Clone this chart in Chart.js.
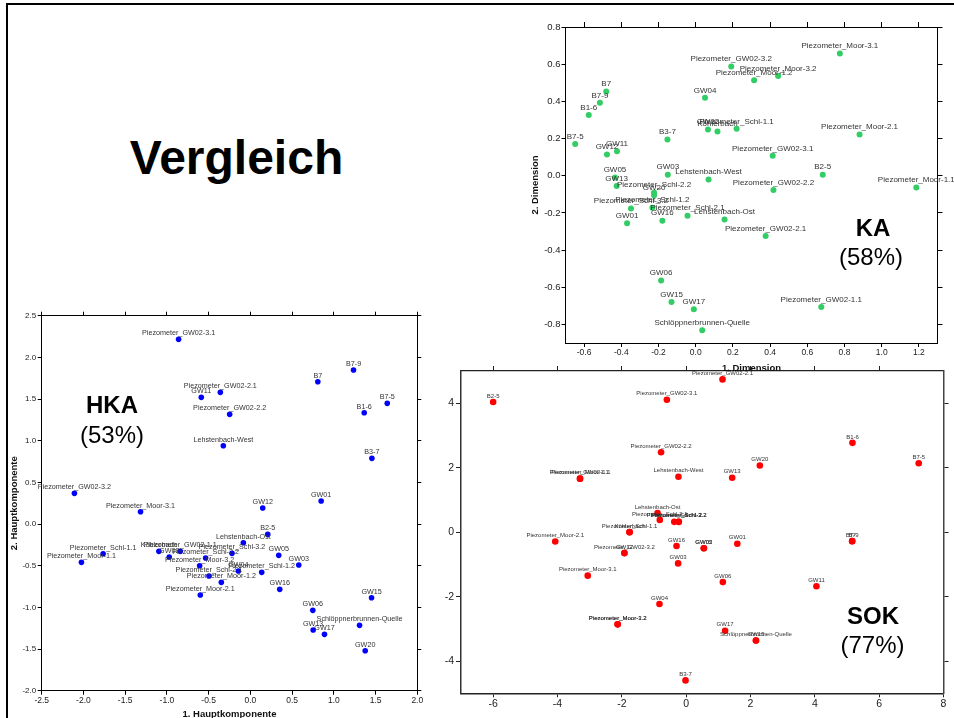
<!DOCTYPE html>
<html><head><meta charset="utf-8">
<script src="https://cdn.jsdelivr.net/npm/chart.js@4.4.0/dist/chart.umd.min.js"></script>
<style>
html,body{margin:0;padding:0;background:#fff;overflow:hidden;width:954px;height:718px;}
canvas{position:absolute;}
.t{position:absolute;font-family:"Liberation Sans",Arial,sans-serif;line-height:1;white-space:nowrap;transform:translateX(-50%);color:#000;}
</style></head><body>
<div style="position:absolute;left:6px;top:3px;width:2000px;height:2000px;border-left:2.5px solid #000;border-top:2px solid #000;"></div>
<canvas id="sok" width="524" height="358" style="left:430px;top:360px"></canvas>
<canvas id="hka" width="421" height="420" style="left:9px;top:300px"></canvas>
<canvas id="ka" width="424" height="364" style="left:530px;top:10px"></canvas>
<div class="t" style="left:236.5px;top:134.4px;font-size:48px;font-weight:bold">Vergleich</div>
<div class="t" style="left:873px;top:216.4px;font-size:24px;font-weight:bold">KA</div>
<div class="t" style="left:871px;top:244.7px;font-size:24px">(58%)</div>
<div class="t" style="left:112px;top:393px;font-size:24px;font-weight:bold">HKA</div>
<div class="t" style="left:112px;top:423px;font-size:24px">(53%)</div>
<div class="t" style="left:873px;top:604px;font-size:24px;font-weight:bold">SOK</div>
<div class="t" style="left:872.5px;top:633px;font-size:24px">(77%)</div>
<script>
// ---------- KA (Korrespondenzanalyse) ----------
const kaLabels = ["B7","B7-9","B1-6","B7-5","GW12","GW11","GW05","GW13","GW03","Lehstenbach-West","B3-7","GW04",
 "Piezometer_GW02-3.2","GW02","Köhlerbach","Piezometer_Schl-1.1","Piezometer_Moor-3.1","Piezometer_Moor-3.2","Piezometer_Moor-1.2",
 "Piezometer_Moor-2.1","Piezometer_GW02-3.1","B2-5","Piezometer_GW02-2.2","Piezometer_Moor-1.1","Piezometer_Schl-2.2","GW20",
 "Piezometer_Schl-3.2","Piezometer_Schl-1.2","Piezometer_Schl-2.1","Lehstenbach-Ost","GW16","GW01","Piezometer_GW02-2.1",
 "GW06","GW15","GW17","Piezometer_GW02-1.1","Schlöppnerbrunnen-Quelle"];
const kaX = [-0.481,-0.515,-0.575,-0.648,-0.477,-0.423,-0.434,-0.425,-0.150,0.069,-0.152,0.050,
 0.191,0.066,0.117,0.220,0.775,0.443,0.314,
 0.881,0.414,0.683,0.418,1.186,-0.224,-0.224,
 -0.348,-0.233,-0.044,0.155,-0.179,-0.369,0.376,
 -0.186,-0.130,-0.010,0.675,0.035];
const kaY = [0.453,0.392,0.327,0.170,0.114,0.132,-0.009,-0.056,0.005,-0.020,0.195,0.419,
 0.587,0.249,0.238,0.252,0.657,0.537,0.513,
 0.222,0.107,0.005,-0.077,-0.063,-0.090,-0.105,
 -0.177,-0.172,-0.215,-0.236,-0.242,-0.256,-0.324,
 -0.564,-0.680,-0.718,-0.707,-0.832];
const kaXTicks = [-0.6,-0.4,-0.2,0.0,0.2,0.4,0.6,0.8,1.0,1.2];
const kaYTicks = [-0.8,-0.6,-0.4,-0.2,0.0,0.2,0.4,0.6,0.8];

// ---------- HKA (Hauptkomponentenanalyse) ----------
const hkaLabels = ["Piezometer_GW02-3.1","B7-9","B7","Piezometer_GW02-2.1","GW11","B7-5","B1-6","Piezometer_GW02-2.2",
 "Lehstenbach-West","B3-7","Piezometer_GW02-3.2","GW01","Piezometer_Moor-3.1","GW12","B2-5","Lehstenbach-Ost",
 "Piezometer_Schl-1.1","Piezometer_Moor-1.1","Köhlerbach","Piezometer_GW02-1.1","GW02","Piezometer_Schl-3.2",
 "Piezometer_Schl-2.2","GW05","Piezometer_Moor-3.2","GW03","GW04","Piezometer_Schl-1.2","Piezometer_Schl-2.1",
 "Piezometer_Moor-1.2","GW16","Piezometer_Moor-2.1","GW15","GW06","Schlöppnerbrunnen-Quelle","GW13","GW17","GW20"];
const hkaX = [-0.860,1.236,0.808,-0.360,-0.588,1.640,1.364,-0.248,
 -0.324,1.456,-2.108,0.848,-1.316,0.148,0.208,-0.084,
 -1.764,-2.024,-1.096,-0.840,-0.972,-0.220,
 -0.536,0.340,-0.608,0.580,-0.144,0.136,-0.496,
 -0.348,0.352,-0.600,1.452,0.748,1.308,0.752,0.888,1.376];
const hkaY = [2.216,1.848,1.708,1.580,1.520,1.448,1.336,1.316,
 0.940,0.788,0.368,0.276,0.148,0.192,-0.124,-0.224,
 -0.356,-0.460,-0.328,-0.328,-0.396,-0.352,
 -0.408,-0.376,-0.500,-0.492,-0.564,-0.580,-0.624,
 -0.700,-0.784,-0.852,-0.884,-1.036,-1.216,-1.272,-1.324,-1.520];
const hkaXTicks = [-2.5,-2.0,-1.5,-1.0,-0.5,0.0,0.5,1.0,1.5,2.0];
const hkaYTicks = [-2.0,-1.5,-1.0,-0.5,0.0,0.5,1.0,1.5,2.0,2.5];

// ---------- SOK (selbstorganisierende Karte) ----------
const sokLabels = ["B2-5","Piezometer_GW02-2.1","Piezometer_GW02-3.1","B1-6","B7-5","Piezometer_GW02-2.2","GW20",
 "Piezometer_GW02-1.1","Piezometer_Moor-1.1","Lehstenbach-West","GW13","Lehstenbach-Ost","Piezometer_Schl-2.1",
 "Piezometer_Schl-1.2","Piezometer_Schl-3.2","Piezometer_Schl-2.2","Köhlerbach","Piezometer_Schl-1.1",
 "Piezometer_Moor-2.1","Piezometer_GW02-3.2","GW12","GW16","GW05","GW02","GW01","B7","B7-9","GW03",
 "Piezometer_Moor-3.1","GW06","GW11","GW04","Piezometer_Moor-3.2","Piezometer_Moor-1.2","GW17",
 "Schlöppnerbrunnen-Quelle","GW15","B3-7"];
const sokX = [-6.00,1.13,-0.60,5.17,7.23,-0.78,2.29,
 -3.30,-3.30,-0.24,1.43,-0.89,-0.82,
 -0.37,-0.23,-0.23,-1.76,-1.76,
 -4.07,-1.92,-1.92,-0.30,0.55,0.55,1.59,5.16,5.16,-0.25,
 -3.06,1.14,4.05,-0.83,-2.13,-2.13,1.21,
 2.17,2.17,-0.02];
const sokY = [4.04,4.74,4.11,2.77,2.14,2.48,2.07,
 1.66,1.66,1.72,1.69,0.59,0.38,
 0.32,0.32,0.32,0.00,0.00,
 -0.29,-0.65,-0.65,-0.43,-0.50,-0.50,-0.36,-0.28,-0.28,-0.97,
 -1.35,-1.55,-1.68,-2.23,-2.86,-2.86,-3.06,
 -3.36,-3.36,-4.60];
const sokXTicks = [-6,-4,-2,0,2,4,6,8];
const sokYTicks = [-4,-2,0,2,4];

const FONT = '"Liberation Sans", Arial, sans-serif';

function axis(o) {
  const vertical = (o.pos === 'left' || o.pos === 'right');
  return {
    type: 'linear', position: o.pos, min: o.min, max: o.max, bounds: 'data',
    afterBuildTicks: s => { s.ticks = o.ticks.map(v => ({value: v})); },
    afterFit: s => { if (vertical) s.width = o.size; else s.height = o.size; },
    grid: {display: true, drawOnChartArea: false, drawTicks: true, tickLength: o.tickLen,
           tickColor: o.tickColor || '#000', tickWidth: 1, color: o.tickColor || '#000'},
    border: {display: true, color: o.bc, width: o.bw},
    ticks: {display: !!o.labels, padding: o.pad || 0, color: '#222', autoSkip: false, maxRotation: 0, minRotation: 0,
            font: {family: FONT, size: o.fs || 9}, callback: v => o.fmt ? o.fmt(v) : String(v)},
    title: o.title ? {display: true, text: o.title, color: '#111', padding: 0,
            font: {family: FONT, size: o.tfs, weight: 'bold'}} : {display: false}
  };
}

function labelPlugin(labels, font, offset) {
  return {
    id: 'ptlabels',
    afterDatasetsDraw(chart) {
      const ctx = chart.ctx;
      const meta = chart.getDatasetMeta(0);
      ctx.save();
      ctx.font = font;
      ctx.fillStyle = '#333';
      ctx.textAlign = 'center';
      ctx.textBaseline = 'middle';
      meta.data.forEach((el, i) => ctx.fillText(labels[i], el.x, el.y - offset));
      ctx.restore();
    }
  };
}

function scatter(id, labels, xs, ys, color, radius, scales, lblFont, lblOff) {
  return new Chart(document.getElementById(id), {
    type: 'scatter',
    data: {datasets: [{data: xs.map((x, i) => ({x: x, y: ys[i]})), backgroundColor: color,
      pointBackgroundColor: color, pointBorderWidth: 0, borderWidth: 0, pointRadius: radius, showLine: false, clip: false}]},
    options: {
      responsive: false, animation: false, devicePixelRatio: 1, events: [],
      layout: {padding: 0},
      plugins: {legend: {display: false}, tooltip: {enabled: false}},
      scales: scales
    },
    plugins: [labelPlugin(labels, lblFont, lblOff)]
  });
}

const f1 = v => v.toFixed(1);

// KA
scatter('ka', kaLabels, kaX, kaY, 'rgb(50,205,100)', 3, {
  x:  axis({pos:'bottom', min:-0.7, max:1.3, ticks:kaXTicks, size:31, tickLen:4, labels:true, pad:1, fs:8.5, fmt:f1, bc:'#000', bw:1, title:'1. Dimension', tfs:9.5}),
  x2: axis({pos:'top', min:-0.7, max:1.3, ticks:kaXTicks, size:17, tickLen:5, bc:'#000', bw:1}),
  y:  axis({pos:'left', min:-0.9, max:0.8, ticks:kaYTicks, size:35.5, tickLen:4, labels:true, pad:1, fs:9.5, fmt:f1, bc:'#000', bw:1, title:'2. Dimension', tfs:9.5}),
  y2: axis({pos:'right', min:-0.9, max:0.8, ticks:kaYTicks, size:16.5, tickLen:5, bc:'#000', bw:1})
}, '8px ' + FONT, 7.5);

// HKA
scatter('hka', hkaLabels, hkaX, hkaY, '#0000ff', 2.8, {
  x:  axis({pos:'bottom', min:-2.5, max:2.0, ticks:hkaXTicks, size:29.3, tickLen:4, labels:true, pad:0.5, fs:8.5, fmt:f1, bc:'#000', bw:1, title:'1. Hauptkomponente', tfs:9.5}),
  x2: axis({pos:'top', min:-2.5, max:2.0, ticks:hkaXTicks, size:15.7, tickLen:4, bc:'#000', bw:1}),
  y:  axis({pos:'left', min:-2.0, max:2.5, ticks:hkaYTicks, size:32.7, tickLen:4, labels:true, pad:1.5, fs:8, fmt:f1, bc:'#000', bw:1, title:'2. Hauptkomponente', tfs:9.5}),
  y2: axis({pos:'right', min:-2.0, max:2.5, ticks:hkaYTicks, size:12.7, tickLen:4, bc:'#000', bw:1})
}, '7.2px ' + FONT, 6);

// SOK
scatter('sok', sokLabels, sokX, sokY, '#ff0000', 3.3, {
  x:  axis({pos:'bottom', min:-7, max:8, ticks:sokXTicks, size:24.7, tickLen:4, labels:true, pad:1, fs:10.5, bc:'#222', bw:1.5, tickColor:'#222'}),
  x2: axis({pos:'top', min:-7, max:8, ticks:sokXTicks.slice(0, -1), size:11, tickLen:5, bc:'#222', bw:1.2, tickColor:'#222'}),
  y:  axis({pos:'left', min:-5, max:5, ticks:sokYTicks, size:31, tickLen:5, labels:true, pad:2, fs:10.5, bc:'#333', bw:1.5, tickColor:'#222'}),
  y2: axis({pos:'right', min:-5, max:5, ticks:sokYTicks, size:10.5, tickLen:5, bc:'#444', bw:1.5, tickColor:'#222'})
}, '6px ' + FONT, 6);
</script>
</body></html>
